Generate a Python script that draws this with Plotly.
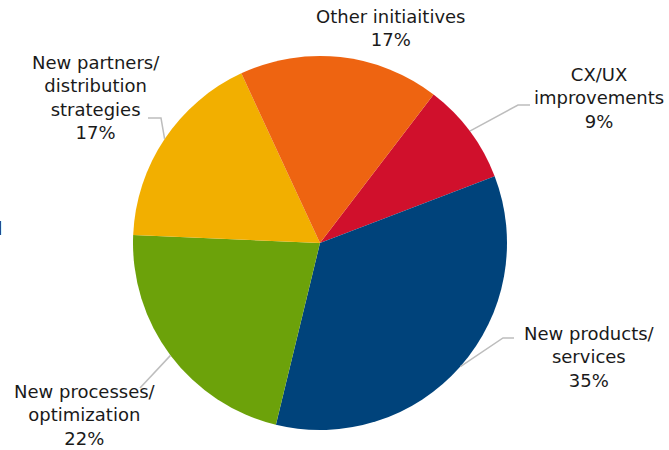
import math
import plotly.graph_objects as go

# ---- data ----
labels = ["CX/UX improvements", "New products/ services", "New processes/ optimization",
          "New partners/ distribution strategies", "Other initiaitives"]
label_lines = ["CX/UX<br>improvements", "New products/<br>services", "New processes/<br>optimization",
               "New partners/<br>distribution<br>strategies", "Other initiaitives"]
values = [8.8, 34.6, 21.9, 17.4, 17.3]
colors = ["#D0102C", "#00437B", "#6CA20A", "#F2AF00", "#EE6411"]

# ---- layout constants (pixels) ----
W, H = 669, 450
CX, CY, R = 320, 243, 187
ROTATION = 37.4
# label block centers (px) and leader elbow/end points (px), per slice
label_pos = [(599, 98), (589, 357), (85, 415), (96, 98), (391, 28)]
leader_pts = [[(518, 105), (530, 105)], [(503, 338), (514, 338)], [(140, 388)],
              [(161, 118), (148, 118)], None]

def px2paper(x, y):
    return x / W, 1 - y / H

fig = go.Figure(go.Pie(
    labels=labels, values=values, sort=False, direction="clockwise",
    rotation=ROTATION, marker=dict(colors=colors, line=dict(width=0)),
    textinfo="none", hoverinfo="label+percent", showlegend=False,
    domain=dict(x=[(CX - R) / W, (CX + R) / W], y=[1 - (CY + R) / H, 1 - (CY - R) / H]),
))

total = sum(values)
cum = 0
annotations = []
shapes = []
for i, v in enumerate(values):
    mid = ROTATION + (cum + v / 2) / total * 360
    cum += v
    pct = round(v / total * 100)
    lx, ly = px2paper(*label_pos[i])
    annotations.append(dict(
        x=lx, y=ly, xref="paper", yref="paper", showarrow=False,
        text=f"{label_lines[i]}<br>{pct}%", align="center",
        xanchor="center", yanchor="middle",
        font=dict(family="DejaVu Sans, Inter, sans-serif", size=18, color="#1a1a1a"),
    ))
    if leader_pts[i]:
        a = math.radians(mid)
        ex, ey = CX + R * math.sin(a), CY - R * math.cos(a)
        pts = [(ex, ey)] + leader_pts[i]
        path = "M " + " L ".join(f"{px2paper(x, y)[0]},{px2paper(x, y)[1]}" for x, y in pts)
        shapes.append(dict(type="path", path=path, xref="paper", yref="paper",
                           line=dict(color="#BDBDBD", width=1.5), layer="above"))

# partially clipped text at the left edge, as in the reference
ex_, ey_ = px2paper(4, 229)
annotations.append(dict(x=ex_, y=ey_, xref="paper", yref="paper", showarrow=False,
                        text="d", xanchor="right", yanchor="middle",
                        font=dict(family="DejaVu Sans, sans-serif", size=18, color="#1a1a1a")))

fig.update_layout(
    width=W, height=H, margin=dict(l=0, r=0, t=0, b=0),
    paper_bgcolor="white", plot_bgcolor="white",
    annotations=annotations, shapes=shapes,
)
fig.write_html("out.html", config={"displayModeBar": False},
               post_script="document.body.style.margin='0';document.body.style.overflow='hidden';")
